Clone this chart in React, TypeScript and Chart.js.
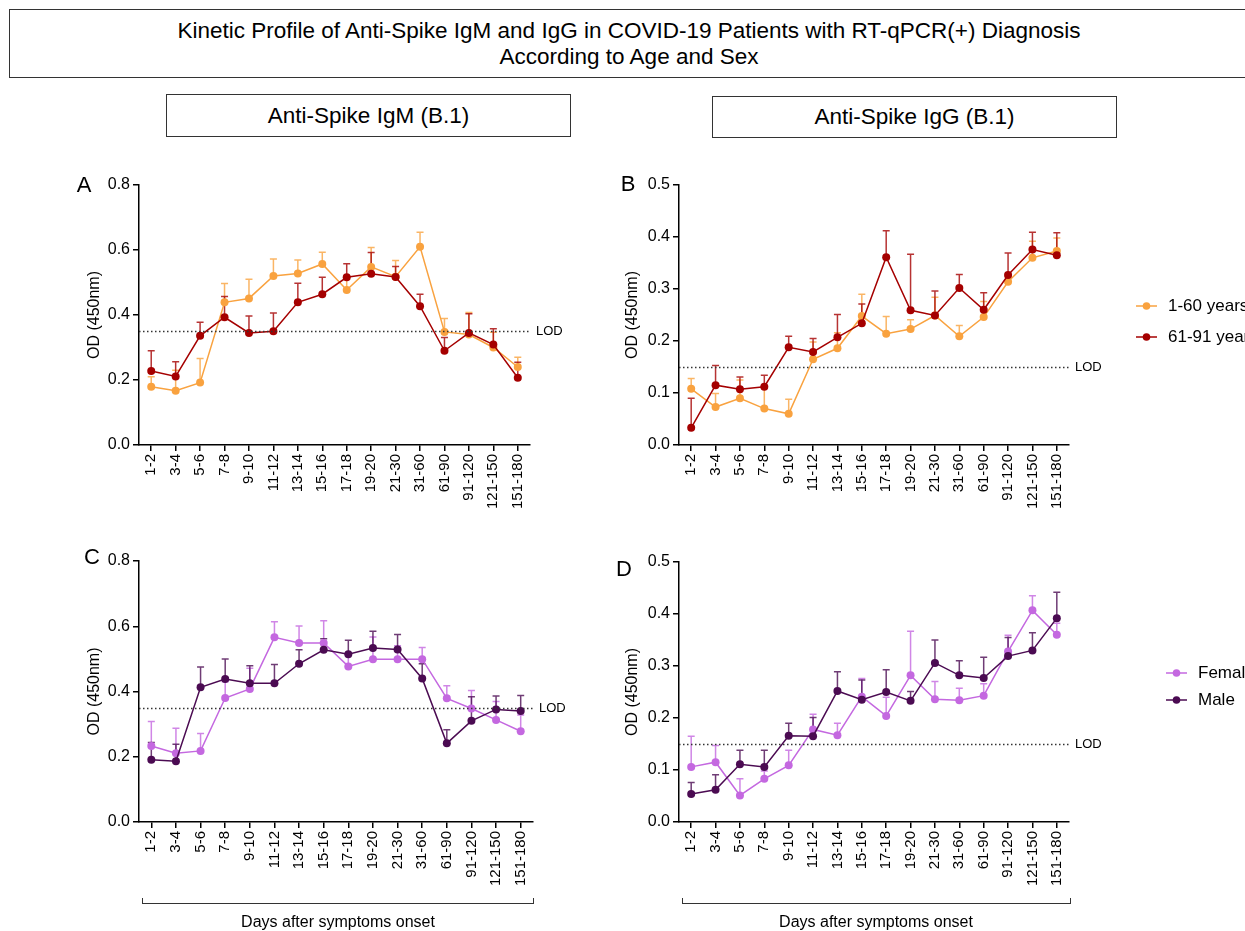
import React, { useEffect, useRef } from "react";
import { Chart, registerables } from "chart.js";

Chart.register(...registerables);

const FONT = '"Liberation Sans", Arial, Helvetica, sans-serif';

const days = ["1-2", "3-4", "5-6", "7-8", "9-10", "11-12", "13-14", "15-16", "17-18", "19-20", "21-30", "31-60", "61-90", "91-120", "121-150", "151-180"];

// Panel A – IgM by age
const igmYoungMean = [0.179, 0.167, 0.192, 0.439, 0.451, 0.520, 0.528, 0.557, 0.477, 0.548, 0.518, 0.610, 0.348, 0.340, 0.300, 0.240];
const igmYoungUpper = [0.21, 0.23, 0.266, 0.497, 0.510, 0.572, 0.569, 0.593, 0.51, 0.608, 0.568, 0.655, 0.389, 0.408, 0.347, 0.270];
const igmOldMean = [0.228, 0.211, 0.336, 0.393, 0.345, 0.350, 0.439, 0.464, 0.516, 0.527, 0.517, 0.427, 0.290, 0.345, 0.309, 0.207];
const igmOldUpper = [0.290, 0.256, 0.378, 0.457, 0.397, 0.406, 0.498, 0.516, 0.558, 0.592, 0.549, 0.464, 0.331, 0.404, 0.358, 0.255];

// Panel B – IgG by age
const iggYoungMean = [0.108, 0.073, 0.090, 0.070, 0.060, 0.165, 0.186, 0.248, 0.214, 0.223, 0.249, 0.209, 0.246, 0.314, 0.360, 0.373];
const iggYoungUpper = [0.128, 0.099, 0.125, 0.111, 0.088, 0.198, 0.216, 0.290, 0.247, 0.241, 0.284, 0.230, 0.276, 0.323, 0.392, 0.398];
const iggOldMean = [0.033, 0.115, 0.107, 0.112, 0.188, 0.179, 0.207, 0.234, 0.361, 0.259, 0.249, 0.302, 0.260, 0.327, 0.376, 0.365];
const iggOldUpper = [0.090, 0.153, 0.131, 0.134, 0.209, 0.205, 0.251, 0.271, 0.412, 0.367, 0.296, 0.328, 0.293, 0.369, 0.409, 0.408];

// Panel C – IgM by sex
const igmFemaleMean = [0.233, 0.211, 0.218, 0.380, 0.408, 0.566, 0.549, 0.549, 0.477, 0.499, 0.499, 0.499, 0.379, 0.348, 0.313, 0.278];
const igmFemaleUpper = [0.308, 0.287, 0.271, 0.43, 0.471, 0.614, 0.601, 0.617, 0.513, 0.567, 0.54, 0.535, 0.418, 0.403, 0.369, 0.328];
const igmMaleMean = [0.191, 0.186, 0.413, 0.438, 0.425, 0.425, 0.485, 0.528, 0.514, 0.533, 0.529, 0.440, 0.241, 0.310, 0.345, 0.340];
const igmMaleUpper = [0.244, 0.238, 0.475, 0.500, 0.479, 0.483, 0.528, 0.562, 0.557, 0.585, 0.575, 0.485, 0.283, 0.384, 0.386, 0.388];

// Panel D – IgG by sex
const iggFemaleMean = [0.106, 0.115, 0.051, 0.083, 0.109, 0.178, 0.167, 0.241, 0.204, 0.282, 0.236, 0.234, 0.243, 0.328, 0.407, 0.360];
const iggFemaleUpper = [0.165, 0.147, 0.083, 0.098, 0.138, 0.207, 0.190, 0.276, 0.24, 0.367, 0.270, 0.257, 0.266, 0.359, 0.435, 0.382];
const iggMaleMean = [0.054, 0.062, 0.111, 0.106, 0.166, 0.165, 0.252, 0.235, 0.250, 0.233, 0.306, 0.282, 0.277, 0.319, 0.330, 0.392];
const iggMaleUpper = [0.076, 0.091, 0.138, 0.138, 0.190, 0.201, 0.289, 0.273, 0.293, 0.251, 0.350, 0.310, 0.317, 0.355, 0.364, 0.442];

const igmAxis = { max: 0.8, step: 0.2, lod: 0.35 };
const iggAxis = { max: 0.5, step: 0.1, lod: 0.15 };

const ageLabels = ["1-60 years", "61-91 years"];
const sexLabels = ["Female", "Male"];

const C_YOUNG = "#F9A23F";
const C_OLD = "#A50000";
const C_FEMALE = "#C468E0";
const C_MALE = "#4B0B52";

type Series = { label: string; mean: number[]; upper: number[]; color: string };
type PanelCfg = {
  box: { left: number; top: number; width: number; height: number };
  area: { left: number; top: number; right: number; bottom: number };
  letter: string;
  letterOff: { dx: number; dy: number };
  titleDx: number;
  axis: { max: number; step: number; lod: number };
  series: Series[];
  legend?: { dx: number; dy: number; gap: number };
};

function hexA(hex: string, a: number) {
  const n = parseInt(hex.slice(1), 16);
  return `rgba(${(n >> 16) & 255},${(n >> 8) & 255},${n & 255},${a})`;
}

function Panel({ cfg }: { cfg: PanelCfg }) {
  const ref = useRef<HTMLCanvasElement | null>(null);
  useEffect(() => {
    if (!ref.current) return;
    const { box, area, axis, series } = cfg;
    const deco = {
      id: "deco",
      beforeDatasetsDraw(chart: any) {
        const ctx = chart.ctx;
        const ys = chart.scales.y;
        ctx.save();
        series.forEach((s, di) => {
          const meta = chart.getDatasetMeta(di);
          ctx.strokeStyle = hexA(s.color, 0.8);
          ctx.lineWidth = 1.5;
          meta.data.forEach((el: any, i: number) => {
            const x = el.x;
            const y0 = el.y;
            const y1 = ys.getPixelForValue(s.upper[i]);
            ctx.beginPath();
            ctx.moveTo(x, y0);
            ctx.lineTo(x, y1);
            ctx.moveTo(x - 3.5, y1);
            ctx.lineTo(x + 3.5, y1);
            ctx.stroke();
          });
        });
        ctx.restore();
      },
      afterDraw(chart: any) {
        const ctx = chart.ctx;
        const ca = chart.chartArea;
        const ys = chart.scales.y;
        ctx.save();
        // LOD
        const ly = Math.round(ys.getPixelForValue(axis.lod)) + 0.5;
        ctx.strokeStyle = "#333";
        ctx.lineWidth = 1.5;
        ctx.setLineDash([1.5, 2.5]);
        ctx.beginPath();
        ctx.moveTo(ca.left, ly);
        ctx.lineTo(ca.right, ly);
        ctx.stroke();
        ctx.setLineDash([]);
        ctx.fillStyle = "#000";
        ctx.font = `13px ${FONT}`;
        ctx.textBaseline = "middle";
        ctx.textAlign = "left";
        ctx.fillText("LOD", ca.right + 6, ly);
        // letter
        ctx.font = `22px ${FONT}`;
        ctx.textAlign = "center";
        ctx.fillText(cfg.letter, ca.left + cfg.letterOff.dx, ca.top + cfg.letterOff.dy);
        // y title
        ctx.font = `16px ${FONT}`;
        ctx.save();
        ctx.translate(ca.left + cfg.titleDx, (ca.top + ca.bottom) / 2);
        ctx.rotate(-Math.PI / 2);
        ctx.textAlign = "center";
        ctx.textBaseline = "middle";
        ctx.fillText("OD (450nm)", 0, 0);
        ctx.restore();
        // legend
        if (cfg.legend) {
          const lg = cfg.legend;
          series.forEach((s, j) => {
            const x0 = ca.right + lg.dx;
            const y = ca.top + lg.dy + j * lg.gap;
            ctx.strokeStyle = s.color;
            ctx.fillStyle = s.color;
            ctx.lineWidth = 1.5;
            ctx.beginPath();
            ctx.moveTo(x0, y);
            ctx.lineTo(x0 + 21, y);
            ctx.stroke();
            ctx.beginPath();
            ctx.arc(x0 + 10.5, y, 3.8, 0, Math.PI * 2);
            ctx.fill();
            ctx.fillStyle = "#000";
            ctx.font = `17px ${FONT}`;
            ctx.textAlign = "left";
            ctx.textBaseline = "middle";
            ctx.fillText(s.label, x0 + 32, y);
          });
        }
        ctx.restore();
      },
    };

    const chart = new Chart(ref.current, {
      type: "line",
      data: {
        labels: days,
        datasets: series.map((s, i) => ({
          label: s.label,
          data: s.mean,
          borderColor: s.color,
          backgroundColor: s.color,
          pointBackgroundColor: s.color,
          pointBorderColor: s.color,
          pointRadius: 4,
          pointBorderWidth: 0,
          borderWidth: 1.5,
          tension: 0,
          fill: false,
          order: series.length - i,
        })),
      },
      options: {
        responsive: false,
        maintainAspectRatio: false,
        animation: false,
        devicePixelRatio: 1,
        events: [],
        layout: {
          padding: {
            top: area.top - box.top,
            right: box.left + box.width - area.right,
            left: 0,
            bottom: 0,
          },
        },
        plugins: { legend: { display: false }, tooltip: { enabled: false }, title: { display: false } },
        scales: {
          x: {
            type: "category",
            offset: true,
            grid: { display: true, drawOnChartArea: false, drawTicks: true, tickLength: 6, color: "#000", lineWidth: 1.5, offset: false },
            border: { display: true, color: "#000", width: 1.5 },
            ticks: { minRotation: 90, maxRotation: 90, autoSkip: false, padding: 3, color: "#000", font: { family: FONT, size: 15 } },
            afterFit: (s: any) => {
              s.height = box.top + box.height - area.bottom;
              s.paddingLeft = 0;
              s.paddingRight = 0;
            },
          },
          y: {
            min: 0,
            max: axis.max,
            grid: { display: true, drawOnChartArea: false, drawTicks: true, tickLength: 6, color: "#000", lineWidth: 1.5 },
            border: { display: true, color: "#000", width: 1.5 },
            ticks: {
              stepSize: axis.step,
              padding: 3,
              color: "#000",
              font: { family: FONT, size: 16 },
              callback: (v: any) => Number(v).toFixed(1),
            },
            afterFit: (s: any) => {
              s.width = area.left - box.left;
              s.paddingTop = 0;
              s.paddingBottom = 0;
            },
          },
        },
      },
      plugins: [deco],
    } as any);
    return () => chart.destroy();
  }, [cfg]);
  const { box } = cfg;
  return (
    <canvas
      ref={ref}
      width={box.width}
      height={box.height}
      style={{ position: "absolute", left: box.left, top: box.top, width: box.width, height: box.height }}
    />
  );
}

const panels: PanelCfg[] = [
  {
    box: { left: 40, top: 165, width: 560, height: 380 },
    area: { left: 139, top: 185, right: 530, bottom: 445 },
    letter: "A",
    letterOff: { dx: -55, dy: 1 },
    titleDx: -44,
    axis: igmAxis,
    series: [
      { label: ageLabels[0], mean: igmYoungMean, upper: igmYoungUpper, color: C_YOUNG },
      { label: ageLabels[1], mean: igmOldMean, upper: igmOldUpper, color: C_OLD },
    ],
  },
  {
    box: { left: 600, top: 165, width: 645, height: 380 },
    area: { left: 679, top: 185, right: 1069, bottom: 445 },
    letter: "B",
    letterOff: { dx: -51, dy: 0 },
    titleDx: -46,
    axis: iggAxis,
    series: [
      { label: ageLabels[0], mean: iggYoungMean, upper: iggYoungUpper, color: C_YOUNG },
      { label: ageLabels[1], mean: iggOldMean, upper: iggOldUpper, color: C_OLD },
    ],
    legend: { dx: 67, dy: 121, gap: 31 },
  },
  {
    box: { left: 40, top: 540, width: 560, height: 380 },
    area: { left: 139, top: 561, right: 533, bottom: 822 },
    letter: "C",
    letterOff: { dx: -47, dy: -3 },
    titleDx: -44,
    axis: igmAxis,
    series: [
      { label: sexLabels[0], mean: igmFemaleMean, upper: igmFemaleUpper, color: C_FEMALE },
      { label: sexLabels[1], mean: igmMaleMean, upper: igmMaleUpper, color: C_MALE },
    ],
  },
  {
    box: { left: 600, top: 540, width: 645, height: 380 },
    area: { left: 679, top: 562, right: 1069, bottom: 822 },
    letter: "D",
    letterOff: { dx: -55, dy: 8 },
    titleDx: -46,
    axis: iggAxis,
    series: [
      { label: sexLabels[0], mean: iggFemaleMean, upper: iggFemaleUpper, color: C_FEMALE },
      { label: sexLabels[1], mean: iggMaleMean, upper: iggMaleUpper, color: C_MALE },
    ],
    legend: { dx: 97, dy: 111, gap: 27 },
  },
];

const boxStyle: React.CSSProperties = {
  position: "absolute",
  boxSizing: "border-box",
  border: "1px solid #333",
  background: "#fff",
};

export default function App() {
  return (
    <div
      style={{
        position: "fixed",
        left: 0,
        top: 0,
        width: 1245,
        height: 931,
        overflow: "hidden",
        background: "#fff",
        fontFamily: FONT,
        color: "#000",
      }}
    >
      <div style={{ ...boxStyle, left: 9, top: 9, width: 1240, height: 69 }} />
      <div style={{ position: "absolute", left: 9, width: 1240, top: 18, height: 26, lineHeight: "26px", fontSize: 22.5, textAlign: "center", whiteSpace: "nowrap" }}>
        Kinetic Profile of Anti-Spike IgM and IgG in COVID-19 Patients with RT-qPCR(+) Diagnosis
      </div>
      <div style={{ position: "absolute", left: 9, width: 1240, top: 44, height: 26, lineHeight: "26px", fontSize: 22.5, textAlign: "center", whiteSpace: "nowrap" }}>
        According to Age and Sex
      </div>
      <div style={{ ...boxStyle, left: 166, top: 94, width: 405, height: 43, lineHeight: "41px", fontSize: 22.5, textAlign: "center" }}>
        Anti-Spike IgM (B.1)
      </div>
      <div style={{ ...boxStyle, left: 712, top: 96, width: 405, height: 42, lineHeight: "40px", fontSize: 22.5, textAlign: "center" }}>
        Anti-Spike IgG (B.1)
      </div>
      {panels.map((p, i) => (
        <Panel key={i} cfg={p} />
      ))}
      <div style={{ position: "absolute", left: 142, top: 898, width: 392, height: 6, boxSizing: "border-box", borderLeft: "1px solid #333", borderRight: "1px solid #333", borderBottom: "1px solid #333" }} />
      <div style={{ position: "absolute", left: 682, top: 898, width: 389, height: 6, boxSizing: "border-box", borderLeft: "1px solid #333", borderRight: "1px solid #333", borderBottom: "1px solid #333" }} />
      <div style={{ position: "absolute", left: 188, width: 300, top: 912, height: 20, lineHeight: "20px", fontSize: 16, textAlign: "center" }}>
        Days after symptoms onset
      </div>
      <div style={{ position: "absolute", left: 726, width: 300, top: 912, height: 20, lineHeight: "20px", fontSize: 16, textAlign: "center" }}>
        Days after symptoms onset
      </div>
    </div>
  );
}
